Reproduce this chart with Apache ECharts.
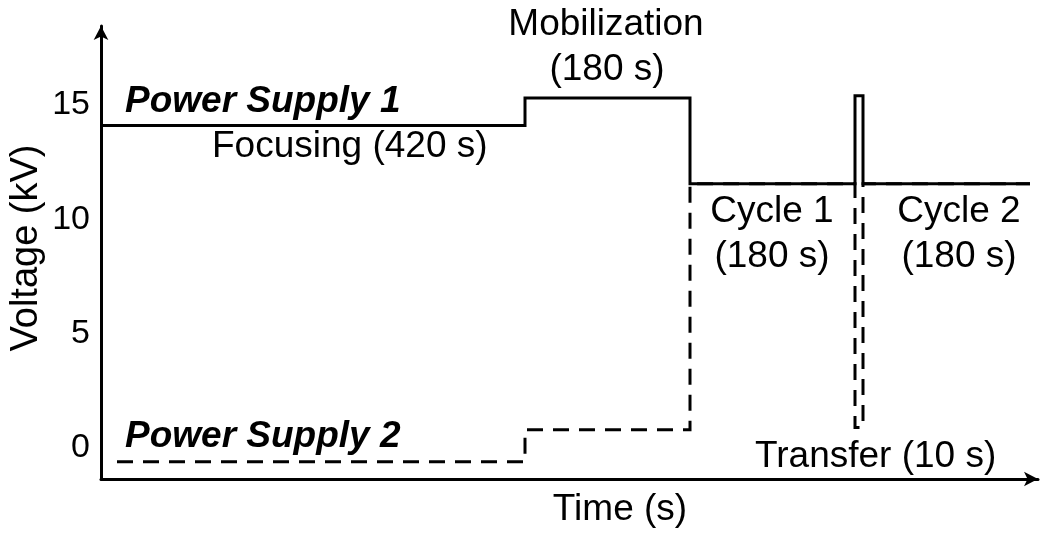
<!DOCTYPE html>
<html>
<head>
<meta charset="utf-8">
<script src="https://cdn.jsdelivr.net/npm/echarts@6/dist/echarts.min.js"></script>
<style>html,body{margin:0;padding:0;background:#fff}#c{width:1050px;height:533px}</style>
</head>
<body>
<div id="c"></div>
<script>
// Time (s, schematic) and voltage (kV) breakpoints
const ps1Time = [0, 424, 424, 589, 589, 754, 754, 762, 762, 929];
const ps1Volt = [14.1, 14.1, 15.3, 15.3, 11.55, 11.55, 15.4, 15.4, 11.55, 11.55];
const ps2Time = [16, 424, 424, 589, 589, 754, 754, 762, 762, 929];
const ps2Volt = [-0.6, -0.6, 0.8, 0.8, 11.55, 11.55, 0.9, 0.9, 11.55, 11.55];
const yTicks = [0, 5, 10, 15];

const FONT = '"Liberation Sans", Arial, sans-serif';
const FS = 37;

const chart = echarts.init(document.getElementById('c'), null, {renderer: 'canvas'});

function txt(text, x, y, align, extra) {
  return {
    type: 'text', x: x, y: y, silent: true,
    style: Object.assign({text: text, fill: '#000', font: FS + 'px ' + FONT, textAlign: align, textVerticalAlign: 'middle'}, extra || {})
  };
}

chart.setOption({
  animation: false,
  backgroundColor: '#fff',
  grid: {left: 101, right: 12, top: 26, bottom: 54},
  xAxis: {
    type: 'value', min: 0, max: 937,
    axisLine: {show: true, onZero: false, symbol: ['none', 'arrow'], symbolSize: [11, 14], lineStyle: {color: '#000', width: 3}},
    axisTick: {show: false}, axisLabel: {show: false}, splitLine: {show: false}
  },
  yAxis: {
    type: 'value', min: -1.356, max: 18.45,
    axisLine: {show: true, onZero: false, symbol: ['none', 'arrow'], symbolSize: [11, 14], lineStyle: {color: '#000', width: 3}},
    axisTick: {show: false},
    axisLabel: {show: true, customValues: yTicks, color: '#000', fontSize: 34, fontFamily: FONT, margin: 11},
    splitLine: {show: false}
  },
  series: [
    {
      type: 'line', data: ps2Time.map((t, i) => [t, ps2Volt[i]]), symbol: 'none', z: 2,
      lineStyle: {color: '#000', width: 3, type: [16, 10], cap: 'butt', join: 'miter'}
    },
    {
      type: 'line', data: ps1Time.map((t, i) => [t, ps1Volt[i]]), symbol: 'none', z: 3,
      lineStyle: {color: '#000', width: 3, type: 'solid', join: 'miter'}
    }
  ],
  graphic: [
    txt('Power Supply 1', 125, 102, 'left', {font: 'italic bold ' + FS + 'px ' + FONT}),
    txt('Focusing (420 s)', 212, 147, 'left'),
    txt('Mobilization', 606, 25, 'center'),
    txt('(180 s)', 607, 70, 'center'),
    txt('Cycle 1', 772, 212, 'center'),
    txt('(180 s)', 772, 257, 'center'),
    txt('Cycle 2', 959, 212, 'center'),
    txt('(180 s)', 959, 257, 'center'),
    txt('Power Supply 2', 125, 437, 'left', {font: 'italic bold ' + FS + 'px ' + FONT}),
    txt('Transfer (10 s)', 755, 457, 'left'),
    txt('Time (s)', 620, 510, 'center'),
    Object.assign(txt('Voltage (kV)', 0, 0, 'center', {font: '38px ' + FONT}), {x: 27, y: 248, rotation: Math.PI / 2})
  ]
});
</script>
</body>
</html>
